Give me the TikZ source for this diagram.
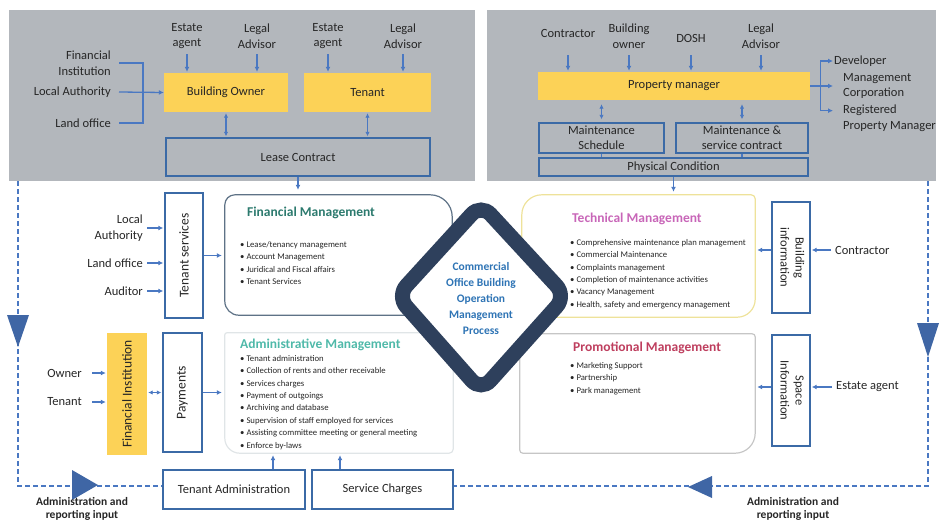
\documentclass[tikz,border=0pt]{standalone}
\usepackage{fontspec}
\setmainfont{Carlito}
\usetikzlibrary{arrows.meta}
\definecolor{panelgray}{HTML}{B3B7BC}
\definecolor{gold}{HTML}{FCD257}
\definecolor{lineblue}{HTML}{4A78C2}
\definecolor{boxblue}{HTML}{3B6AA6}
\definecolor{navy}{HTML}{2E405C}
\definecolor{txt}{HTML}{262626}
\definecolor{finc}{HTML}{2C7A6E}
\definecolor{techc}{HTML}{C866B8}
\definecolor{admc}{HTML}{4FB9A9}
\definecolor{proc}{HTML}{BE3E5E}
\definecolor{diac}{HTML}{2E74B5}
\definecolor{finl}{HTML}{5E7286}
\definecolor{techl}{HTML}{EEE29A}
\definecolor{adml}{HTML}{E0E5E7}
\definecolor{prol}{HTML}{C6C6C6}
\tikzset{
 lbl/.style={font=\fontsize{12.5}{15.5}\selectfont, text=txt, align=center, inner sep=0pt},
 ybox/.style={fill=gold, inner sep=0pt, font=\fontsize{12.5}{15}\selectfont, text=txt, align=center},
 bbox/.style={draw=boxblue, line width=1.4pt, inner sep=0pt, font=\fontsize{12.5}{15}\selectfont, text=txt, align=center},
 arr/.style={draw=lineblue, line width=1.3pt, -{Latex[length=5pt,width=5pt]}},
 darr/.style={draw=lineblue, line width=1.3pt, {Latex[length=4.5pt,width=4.5pt]}-{Latex[length=4.5pt,width=4.5pt]}},
 plain/.style={draw=lineblue, line width=1.3pt},
 dline/.style={draw=lineblue, line width=1.3pt, dash pattern=on 5pt off 3pt},
 tri/.style={fill=lineblue!85!black},
 mtitle/.style={font=\fontsize{13.5}{16}\selectfont\bfseries, anchor=west, inner sep=0pt},
 bul/.style={font=\fontsize{8.7}{12.4}\selectfont, text=txt, align=left, anchor=north west, inner sep=0pt},
 frame/.style={inner sep=0pt},
 rotlbl/.style={font=\fontsize{13.5}{15.5}\selectfont},
}
\begin{document}
\begin{tikzpicture}[x=1pt,y=-1pt]
\useasboundingbox (0,0) rectangle (940,522);
% ---------- grey panels ----------
\fill[panelgray] (9,10) rectangle (475,181);
\fill[panelgray] (487,10) rectangle (936,181);

% ---------- top left ----------
\node[ybox, minimum width=124, minimum height=39] (bo) at (226,92.5) {Building Owner};
\node[ybox, minimum width=127, minimum height=39] (tn) at (367.5,92.5) {Tenant};
\node[bbox, minimum width=264, minimum height=38] (lc) at (298,157) {Lease Contract};
\node[lbl] (ea1) at (187,36) {Estate\\agent};
\node[lbl] (la1) at (257,36) {Legal\\Advisor};
\node[lbl] (ea2) at (328,36) {Estate\\agent};
\node[lbl] (la2) at (403,36) {Legal\\Advisor};
\coordinate (ltop) at (0,54);
\foreach \n in {ea1,la1} \draw[arr, shorten >=1pt] (\n |- ltop) -- (\n |- bo.north);
\foreach \n in {ea2,la2} \draw[arr, shorten >=1pt] (\n |- ltop) -- (\n |- tn.north);
\node[lbl, align=right, anchor=east] (fin) at (111,63) {Financial\\Institution};
\node[lbl, anchor=east] (lau) at (111,92) {Local Authority};
\node[lbl, anchor=east] (lof) at (111,123) {Land office};
\draw[plain] ([xshift=8pt]fin.east) -| ([xshift=32pt]lof.east) -- ([xshift=8pt]lof.east);
\draw[arr] ([xshift=8pt]lau.east) -- (bo.west);
\draw[darr, shorten <=1pt, shorten >=1pt] (bo.south) -- (bo.south |- lc.north);
\draw[darr, shorten <=1pt, shorten >=1pt] (tn.south) -- (tn.south |- lc.north);

% ---------- top right ----------
\node[ybox, minimum width=272, minimum height=28] (pm) at (674,86) {Property manager};
\node[lbl] (co) at (568,33) {Contractor};
\node[lbl] (bw) at (629,36) {Building\\owner};
\node[lbl] (dosh) at (691,38) {DOSH};
\node[lbl] (la3) at (761,36) {Legal\\Advisor};
\coordinate (rtop) at (0,55);
\foreach \n in {co,bw,dosh,la3} \draw[arr, shorten >=1pt] (\n |- rtop) -- (\n |- pm.north);
\node[bbox, minimum width=125, minimum height=30] (ms) at (601.5,138) {Maintenance\\Schedule};
\node[bbox, minimum width=132, minimum height=30] (msc) at (742,138) {Maintenance \&\\service contract};
\node[bbox, minimum width=269, minimum height=18] (pc) at (673.5,167) {Physical Condition};
\draw[darr, shorten <=4pt, shorten >=3pt] (pm.south -| ms.north) -- (ms.north);
\draw[darr, shorten <=4pt, shorten >=3pt] (pm.south -| msc.north) -- (msc.north);
\draw[plain] (ms.south) -- (ms.south |- pc.north);
\draw[plain] (msc.south) -- (msc.south |- pc.north);
\node[lbl, anchor=west] (dev) at (834,61) {Developer};
\node[lbl, anchor=west, align=left] (mco) at (843,86) {Management\\Corporation};
\node[lbl, anchor=west, align=left] (rpm) at (843,118) {Registered\\Property Manager};
\draw[plain] (pm.east) -- ++(10,0) coordinate (bj);
\draw[arr, shorten >=1pt] (bj) |- (dev.west);
\draw[arr, shorten >=10pt] (bj) -- (mco.west);
\draw[arr, shorten >=10pt] (bj) |- ([yshift=-6pt]rpm.north west);

% ---------- financial management ----------
\node[frame, minimum width=227, minimum height=120] (fm) at (338.5,255) {};
\draw[finl, line width=1.2pt] (fm.west) [rounded corners=10pt] |- (fm.north) [rounded corners=22pt] -| (fm.east) [rounded corners=8pt] |- (fm.south) [rounded corners=14pt] -| (fm.west);
\node[mtitle, text=finc] (fmt) at (247,213) {Financial Management};
\node[bul] (fmb) at (240,241) {• Lease/tenancy management\\• Account Management\\• Juridical and Fiscal affairs\\• Tenant Services};
\node[bbox, rotlbl, minimum width=38, minimum height=125] (ts) at (184,255.5) {\rotatebox{90}{Tenant services}};
\node[lbl, anchor=east, align=right] (lau2) at (143,228) {Local\\Authority};
\node[lbl, anchor=east] (lof2) at (143,263) {Land office};
\node[lbl, anchor=east] (aud) at (143,291) {Auditor};
\foreach \n in {lau2,lof2,aud} \draw[arr, shorten <=4pt, shorten >=1pt] (\n.east) -- (\n.east -| ts.west);
\draw[arr, shorten >=3pt] (ts.east) -- (ts.east -| fm.west);

% ---------- technical management ----------
\node[frame, minimum width=233, minimum height=122] (tm) at (638.5,256) {};
\draw[techl, line width=1.2pt] (tm.west) [rounded corners=20pt] |- (tm.north) [rounded corners=4pt] -| (tm.east) [rounded corners=18pt] |- (tm.south) [rounded corners=6pt] -| (tm.west);
\node[mtitle, text=techc] (tmt) at (572,219) {Technical Management};
\node[bul] (tmb) at (570,239) {• Comprehensive maintenance plan management\\• Commercial Maintenance\\• Complaints management\\• Completion of maintenance activities\\• Vacancy Management\\• Health, safety and emergency management};
\node[bbox, minimum width=38, minimum height=111] (bi) at (791,257.5) {\rotatebox{-90}{\begin{tabular}{@{}c@{}}Building\\information\end{tabular}}};
\node[lbl, anchor=west] (ctr) at (835,250) {Contractor};
\draw[arr, shorten <=4pt, shorten >=1pt] (ctr.west) -- (ctr.west -| bi.east);
\draw[arr, shorten >=2pt] (ctr.west -| bi.west) -- (ctr.west -| tm.east);

% ---------- administrative management ----------
\node[frame, minimum width=228, minimum height=120] (am) at (339,393) {};
\draw[adml, line width=1.2pt] (am.west) [rounded corners=2pt] |- (am.north) [rounded corners=8pt] -| (am.east) [rounded corners=4pt] |- (am.south) [rounded corners=15pt] -| (am.west);
\node[mtitle, text=admc] (amt) at (240,345) {Administrative Management};
\node[bul] (amb) at (240,355) {• Tenant administration\\• Collection of rents and other receivable\\• Services charges\\• Payment of outgoings\\• Archiving and database\\• Supervision of staff employed for services\\• Assisting committee meeting or general meeting\\• Enforce by-laws};
\node[ybox, rotlbl, minimum width=40, minimum height=122] (fi) at (127,394) {\rotatebox{90}{Financial Institution}};
\node[bbox, rotlbl, minimum width=39, minimum height=119] (pay) at (182.5,392.5) {\rotatebox{90}{Payments}};
\node[lbl, anchor=east] (own) at (82,373) {Owner};
\node[lbl, anchor=east] (ten) at (82,402) {Tenant};
\draw[arr, shorten <=10pt, shorten >=1pt] (own.east) -- (own.east -| fi.west);
\draw[arr, shorten <=10pt, shorten >=1pt] (ten.east) -- (ten.east -| fi.west);
\draw[darr, shorten <=1pt, shorten >=1pt] (fi.east |- pay.east) -- (pay.west);
\draw[arr, shorten >=3pt] (pay.east) -- (pay.east -| am.west);
\node[bbox, minimum width=142, minimum height=39] (ta) at (234,489.5) {Tenant Administration};
\node[bbox, minimum width=141, minimum height=39] (sc) at (382.5,489.5) {Service Charges};
\coordinate (tax) at (273,0);
\coordinate (scx) at (340,0);
\draw[arr, shorten >=2pt] (tax |- ta.north) -- (tax |- am.south);
\draw[arr, shorten >=2pt] (scx |- sc.north) -- (scx |- am.south);

% ---------- promotional management ----------
\node[frame, minimum width=235, minimum height=119] (pr) at (637.5,393.5) {};
\draw[prol, line width=1.2pt] (pr.west) [rounded corners=6pt] |- (pr.north) [rounded corners=3pt] -| (pr.east) [rounded corners=20pt] |- (pr.south) [rounded corners=3pt] -| (pr.west);
\node[mtitle, text=proc] (prt) at (573,348) {Promotional Management};
\node[bul] (prb) at (570,362) {• Marketing Support\\• Partnership\\• Park management};
\node[bbox, minimum width=38, minimum height=111] (si) at (791,390.5) {\rotatebox{-90}{\begin{tabular}{@{}c@{}}Space\\Information\end{tabular}}};
\node[lbl, anchor=west] (ea3) at (836,387) {Estate agent};
\draw[arr, shorten <=4pt, shorten >=1pt] (ea3.west) -- (ea3.west -| si.east);
\draw[arr, shorten >=2pt] (ea3.west -| si.west) -- (ea3.west -| pr.east);

% ---------- connectors from panels ----------
\draw[arr, shorten >=5pt] (lc.south) -- (lc.south |- fm.north);
\draw[arr, shorten >=3pt] (pc.south) -- (pc.south |- tm.north);

% ---------- diamond ----------
\draw[navy, line width=15pt, rounded corners=14pt, fill=white] (481,204) -- (566,296) -- (481,391) -- (397,296) -- cycle;
\node[font=\fontsize{11.5}{16}\selectfont\bfseries, text=diac, align=center] (dtxt) at (481,299) {Commercial\\Office Building\\Operation\\Management\\Process};

% ---------- dashed feedback loops ----------
\coordinate (dl0) at (18,181);
\coordinate (dl1) at (18,486);
\draw[dline] (dl0) -- (dl1) -- (dl1 -| ta.west);
\coordinate (dr0) at (928,181);
\coordinate (dr1) at (928,486);
\draw[dline] (dr0) -- (dr1) -- (dr1 -| sc.east);
\fill[tri] (7,315) -- (29,315) -- (18,347) -- cycle;
\fill[tri] (72,470) -- (98,485) -- (72,500) -- cycle;
\fill[tri] (917,323) -- (939,323) -- (928,357) -- cycle;
\fill[tri] (712,476) -- (688,487) -- (712,498) -- cycle;
\node[lbl, font=\fontsize{11.5}{13.5}\selectfont\bfseries] (ar1) at (82,509) {Administration and\\reporting input};
\node[lbl, font=\fontsize{11.5}{13.5}\selectfont\bfseries] (ar2) at (793,509) {Administration and\\reporting input};
\end{tikzpicture}
\end{document}
